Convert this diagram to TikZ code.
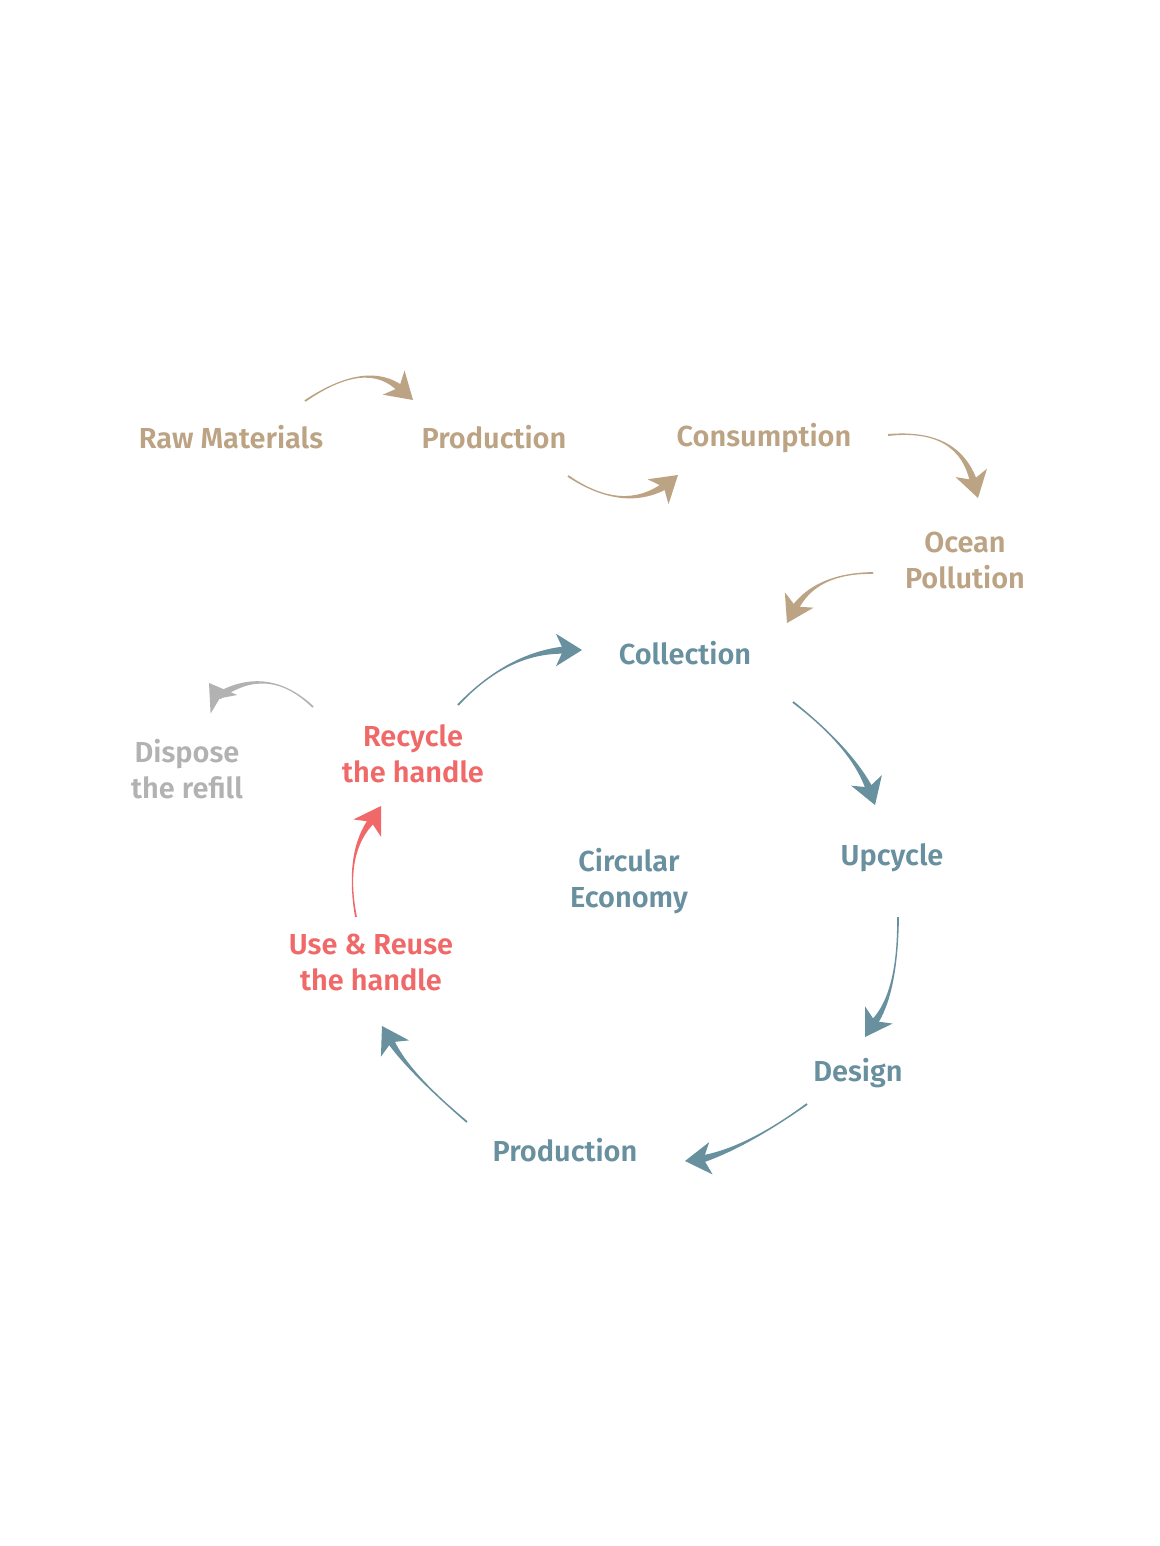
\documentclass[tikz,border=0pt]{standalone}
\usepackage{fontspec}
\setmainfont{Fira Sans}[UprightFont={* SemiBold}]
\usetikzlibrary{calc}
\definecolor{tan}{RGB}{187,163,131}
\definecolor{teal}{RGB}{104,144,158}
\definecolor{coral}{RGB}{240,104,104}
\definecolor{greyc}{RGB}{178,178,178}
\newcommand{\swoosh}[5]{%
  \coordinate (sT) at (#4);
  \coordinate (sN) at ($(sT)+(#5+180:12pt)$);
  \coordinate (sC) at (#3);
  \coordinate (sA) at (#2);
  \coordinate (sN1) at ($(sN)!2.8pt!90:(sC)$);
  \coordinate (sN2) at ($(sN)!2.8pt!-90:(sC)$);
  \coordinate (sA1) at ($(sA)!0.7pt!-90:(sC)$);
  \coordinate (sA2) at ($(sA)!0.7pt!90:(sC)$);
  \fill[#1] (sA1) .. controls ($(sA1)!0.6667!(sC)$) and ($(sN1)!0.6667!(sC)$) .. (sN1)
    -- (sN2) .. controls ($(sN2)!0.6667!(sC)$) and ($(sA2)!0.6667!(sC)$) .. (sA2) -- cycle;
  \fill[#1] (sT) -- ($(sT)+(#5+180-32:23pt)$) -- ($(sT)+(#5+180:14pt)$)
    -- ($(sT)+(#5+180+32:23pt)$) -- cycle;
}
\begin{document}
\begin{tikzpicture}[x=0.75pt,y=-0.75pt,
  lbl/.style={font=\fontsize{21.7pt}{27pt}\selectfont, align=center, inner sep=0pt},
  tanl/.style={lbl, text=tan},
  teall/.style={lbl, text=teal},
  corall/.style={lbl, text=coral},
  greyl/.style={lbl, text=greyc}]
\useasboundingbox (0,0) rectangle (1160,1546);
\fill[white] (0,0) rectangle (1160,1546);
% labels
\node[tanl] (raw) at (231,437) {Raw Materials};
\node[tanl] (prod1) at (494,437) {Production};
\node[tanl] (cons) at (764,438) {Consumption};
\node[tanl] (ocean) at (965,560) {Ocean\\Pollution};
\node[teall] (coll) at (685,653) {Collection};
\node[greyl] (disp) at (187,769) {Dispose\\the refill};
\node[corall] (recy) at (413,754) {Recycle\\the handle};
\node[teall] (circ) at (629,881) {Circular\\Economy};
\node[teall] (upc) at (892,858) {Upcycle};
\node[corall] (use) at (371,962) {Use \& Reuse\\the handle};
\node[teall] (des) at (858,1073) {Design};
\node[teall] (prod2) at (565,1150) {Production};
% arrow coordinates: start, control, tip
\coordinate (a1s) at (305,401); \coordinate (a1c) at (367,359); \coordinate (a1t) at (413,400);
\coordinate (a2s) at (568,476); \coordinate (a2c) at (623,513); \coordinate (a2t) at (678,475);
\coordinate (a3s) at (888,435); \coordinate (a3c) at (959,428); \coordinate (a3t) at (978,498);
\coordinate (a4s) at (873,573); \coordinate (a4c) at (816,573); \coordinate (a4t) at (787,623);
\coordinate (a5s) at (458,705); \coordinate (a5c) at (508,652); \coordinate (a5t) at (582,650);
\coordinate (a6s) at (793,702); \coordinate (a6c) at (852,748); \coordinate (a6t) at (875,805);
\coordinate (a7s) at (898,917); \coordinate (a7c) at (898,994); \coordinate (a7t) at (865,1037);
\coordinate (a8s) at (807,1104); \coordinate (a8c) at (746,1148); \coordinate (a8t) at (685,1161);
\coordinate (a9s) at (467,1122); \coordinate (a9c) at (407,1071); \coordinate (a9t) at (382,1026);
\coordinate (a10s) at (356,917); \coordinate (a10c) at (344,852); \coordinate (a10t) at (381,806);
\coordinate (a11s) at (313,707); \coordinate (a11c) at (268,664); \coordinate (a11t) at (209,683);
% arrows
\swoosh{tan}{a1s}{a1c}{a1t}{-42}
\swoosh{tan}{a2s}{a2c}{a2t}{40}
\swoosh{tan}{a3s}{a3c}{a3t}{-75}
\swoosh{tan}{a4s}{a4c}{a4t}{-118}
\swoosh{teal}{a5s}{a5c}{a5t}{0}
\swoosh{teal}{a6s}{a6c}{a6t}{-71}
\swoosh{teal}{a7s}{a7c}{a7t}{-122}
\swoosh{teal}{a8s}{a8c}{a8t}{186}
\swoosh{teal}{a9s}{a9c}{a9t}{120}
\swoosh{coral}{a10s}{a10c}{a10t}{58}
\swoosh{greyc}{a11s}{a11c}{a11t}{125}
\end{tikzpicture}
\end{document}
